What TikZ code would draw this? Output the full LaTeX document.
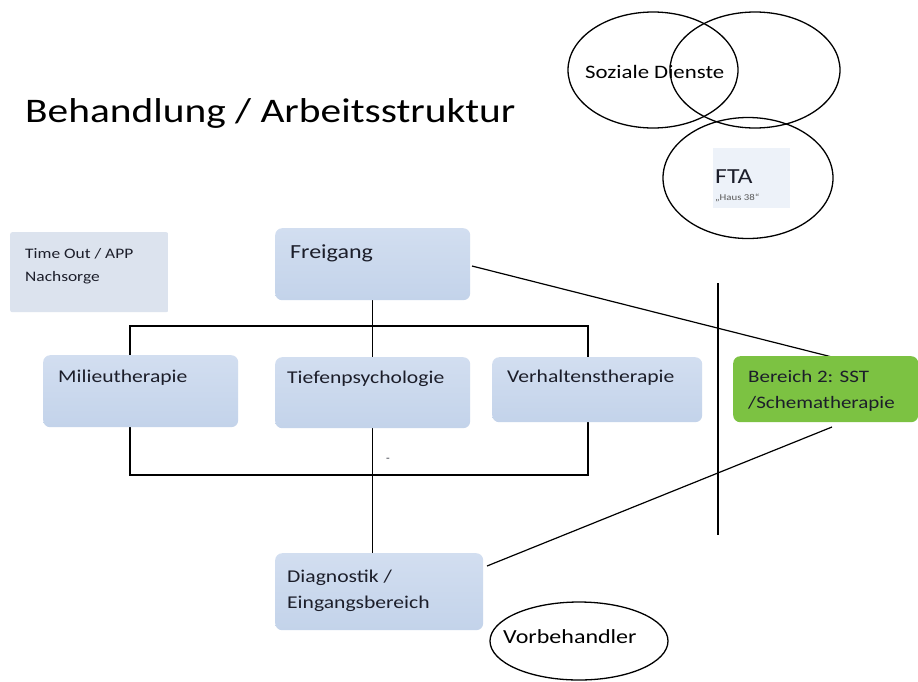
\documentclass[tikz,border=0pt]{standalone}
\usepackage{fontspec}
\setmainfont{Carlito}[FakeStretch=1.2]
\usetikzlibrary{shapes.geometric}
\pgfdeclarelayer{bg}
\pgfsetlayers{bg,main}
\definecolor{boxtop}{HTML}{D2DEF0}
\definecolor{boxbot}{HTML}{C3D3EA}
\definecolor{greybox}{HTML}{DCE3EE}
\definecolor{greenbox}{HTML}{7CC242}
\definecolor{ftabox}{HTML}{EDF2F9}
\definecolor{txt}{HTML}{1C1E2A}
\tikzset{
  box/.style={draw=none, top color=boxtop, bottom color=boxbot, rounded corners=7pt, anchor=north west, inner sep=0pt},
  lbl/.style={anchor=base west, inner sep=0pt, text=txt, font=\fontsize{18}{22}\selectfont},
  conn/.style={line width=1.2pt, black},
  oval/.style={ellipse, draw=black, line width=1.3pt, inner sep=0pt}
}
\begin{document}
\begin{tikzpicture}[x=1pt,y=-1pt]
\useasboundingbox (0,0) rectangle (918,681);

% title
\node[lbl, font=\fontsize{34.5}{40}\selectfont, text=black] (title) at (25,122) {Behandlung / Arbeitsstruktur};

% top-right ellipses
\node[oval, minimum width=170pt, minimum height=116pt] (soz) at (653,70) {};
\node[oval, minimum width=170pt, minimum height=116pt] (sozr) at (755,70) {};
\node[oval, minimum width=170pt, minimum height=121pt] (fta) at (748,178) {};
\node[lbl, font=\fontsize{19}{22}\selectfont, text=black] (sozt) at (585,78) {Soziale Dienste};
\node[lbl, font=\fontsize{21.5}{24}\selectfont] (ftat) at (715,183) {FTA};
\node[lbl, font=\fontsize{9}{10}\selectfont, text=black!65] (haus) at (715,200) {„Haus 38“};

% boxes
\node[box, top color=greybox, bottom color=greybox, rounded corners=2pt, minimum width=158pt, minimum height=80pt] (timeout) at (10,232) {};
\node[box, minimum width=195pt, minimum height=72pt] (frei) at (275,228) {};
\node[box, minimum width=195pt, minimum height=72pt] (mil) at (43,355) {};
\node[box, minimum width=195pt, minimum height=71pt] (tief) at (275,357) {};
\node[box, minimum width=210pt, minimum height=65pt] (verh) at (492,357) {};
\node[box, top color=greenbox, bottom color=greenbox, minimum width=185pt, minimum height=66pt] (green) at (733,356) {};
\node[box, minimum width=208pt, minimum height=77pt] (diag) at (275,553) {};
\node[oval, minimum width=178pt, minimum height=78pt] (vor) at (579,641) {};

% labels
\node[lbl, font=\fontsize{14.5}{17}\selectfont] (t1) at (25,258) {Time Out / APP};
\node[lbl, font=\fontsize{14.5}{17}\selectfont] (t2) at (25,281) {Nachsorge};
\node[lbl, font=\fontsize{20}{24}\selectfont] (freit) at (290,258) {Freigang};
\node[lbl] (milt) at (58,382) {Milieutherapie};
\node[lbl] (tieft) at (287,383) {Tiefenpsychologie};
\node[lbl] (verht) at (507,382) {Verhaltenstherapie};
\node[lbl, font=\fontsize{17.5}{21}\selectfont] (gr1) at (748,382) {Bereich 2: SST};
\node[lbl, font=\fontsize{17.5}{21}\selectfont] (gr2) at (748,408) {/Schematherapie};
\node[lbl] (d1t) at (287,582) {Diagnostik /};
\node[lbl] (d2t) at (287,608) {Eingangsbereich};
\node[lbl, font=\fontsize{20}{24}\selectfont, text=black] (vort) at (503,643) {Vorbehandler};
\node[lbl, font=\fontsize{10}{12}\selectfont] (dash) at (386,461) {-};

% connectors
\coordinate (tl) at (130,326);
\coordinate (tr) at (588,326);
\coordinate (bl) at (130,475);
\coordinate (br) at (588,475);
\coordinate (g1) at (832,357);
\coordinate (g2) at (832,427);
\coordinate (dg) at (487,566);
\coordinate (fr) at (472,266);
\coordinate (vt) at (718,283);
\coordinate (vb) at (718,535);
\begin{pgfonlayer}{bg}
\fill[white] (0,0) rectangle (918,681);
\fill[ftabox] (713,148) rectangle (790,208);
\draw[conn] (frei.south) -- (tief.north);
\draw[conn] (tief.south) -- (tief.south |- diag.north);
\draw[conn] (tl |- mil.north) -- (tl) -- (tr) -- (br) -- (bl) -- (bl |- mil.south);
\draw[conn] (tr) -- (tr |- verh.north);
\draw[conn] (fr) -- (g1);
\draw[conn] (dg) -- (g2);
\draw[conn] (vt) -- (vb);
\end{pgfonlayer}
\end{tikzpicture}
\end{document}
